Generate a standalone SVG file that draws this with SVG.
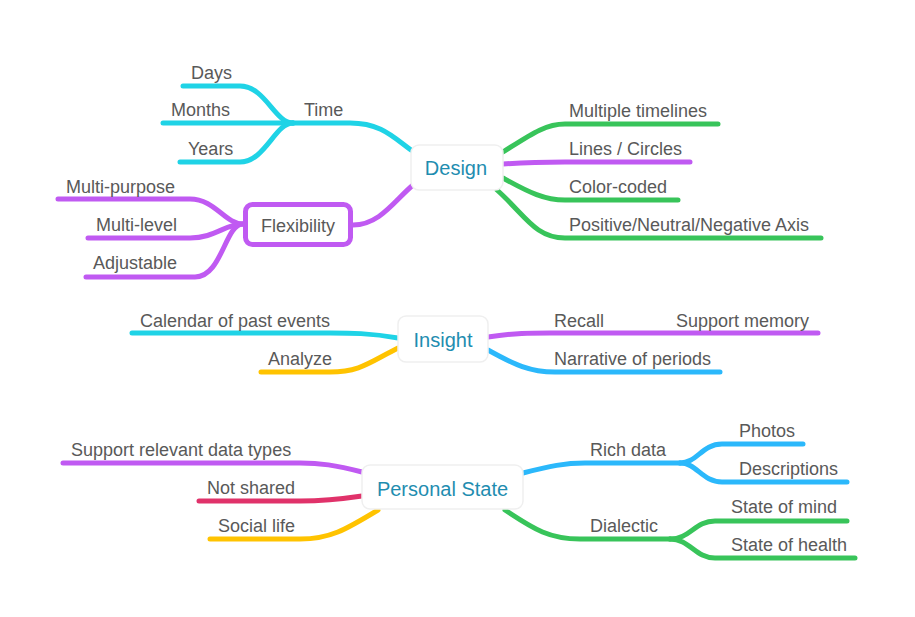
<svg xmlns="http://www.w3.org/2000/svg" width="915" height="617" viewBox="0 0 915 617">
<style>
.c{fill:none;stroke-linecap:round;stroke-linejoin:round;stroke-width:5}
.cy{stroke:#1fd3e6}.pu{stroke:#c05af2}.gr{stroke:#38c45a}.bl{stroke:#2bb8fb}.ye{stroke:#ffc300}.rd{stroke:#e0326a}
.t{font-family:"Liberation Sans",Arial,sans-serif;font-size:18px;fill:#595959}
.n{font-family:"Liberation Sans",Arial,sans-serif;font-size:20px;fill:#1f8db0;text-anchor:middle}
.box{fill:#fff;stroke:#efefef;stroke-width:1.5}
</style>
<rect width="915" height="617" fill="#fff"/>
<g id="connectors">
<path class="c cy" d="M293,123 L350,123 C380,123 392,136 411,150"/>
<path class="c cy" d="M183,86 L240,86 C265,86 275,123 293,123"/>
<path class="c cy" d="M163,123 L293,123"/>
<path class="c cy" d="M180,162 L240,162 C265,162 275,123 293,123"/>
<path class="c pu" d="M353,225 C380,225 395,200 413,185"/>
<path class="c pu" d="M58,199 L190,199 C215,199 225,224 243,224"/>
<path class="c pu" d="M88,238 L190,238 C215,238 225,224 243,224"/>
<path class="c pu" d="M86,277 L195,277 C222,277 225,224 243,224"/>
<path class="c gr" d="M503,152 C530,135 545,124 565,124 L718,124"/>
<path class="c pu" d="M503,164 C530,162 545,162 565,162 L690,162"/>
<path class="c gr" d="M503,178 C530,193 545,200 565,200 L678,200"/>
<path class="c gr" d="M497,190 C525,215 535,238 565,238 L821,238"/>
<path class="c cy" d="M398,338 C370,333 350,333 330,333 L132,333"/>
<path class="c ye" d="M398,348 C370,362 360,372 330,372 L261,372"/>
<path class="c pu" d="M488,337 C515,333 530,333 550,333 L818,333"/>
<path class="c bl" d="M488,350 C515,365 530,372 555,372 L720,372"/>
<path class="c pu" d="M362,472 C335,465 320,463 300,463 L63,463"/>
<path class="c rd" d="M362,496 C335,500 320,501 300,501 L199,501"/>
<path class="c ye" d="M378,510 C345,530 330,539 300,539 L210,539"/>
<path class="c bl" d="M523,473 C550,466 565,463 585,463 L680,463"/>
<path class="c bl" d="M680,463 C697,463 702,444 722,444 L803,444"/>
<path class="c bl" d="M680,463 C697,463 702,482 722,482 L847,482"/>
<path class="c gr" d="M505,510 C535,530 550,539 580,539 L670,539"/>
<path class="c gr" d="M670,539 C690,539 695,521 715,521 L847,521"/>
<path class="c gr" d="M670,539 C690,539 695,558 715,558 L855,558"/>
</g>
<g id="design"><rect class="box" x="411" y="145" width="92" height="45" rx="8"/><text class="n" x="456" y="175">Design</text></g>
<g id="insight"><rect class="box" x="398" y="316" width="90" height="46" rx="8"/><text class="n" x="443" y="347">Insight</text></g>
<g id="personal-state"><rect class="box" x="362" y="465" width="161" height="44" rx="8"/><text class="n" x="442.5" y="496">Personal State</text></g>
<g id="flexibility"><rect x="245.5" y="204.5" width="105" height="40" rx="7" fill="#fff" stroke="#c05af2" stroke-width="5"/><text class="t" x="298" y="232" text-anchor="middle">Flexibility</text></g>
<g id="time"><text class="t" x="304" y="116">Time</text></g>
<g id="days"><text class="t" x="191" y="79">Days</text></g>
<g id="months"><text class="t" x="171" y="116">Months</text></g>
<g id="years"><text class="t" x="188" y="155">Years</text></g>
<g id="multi-purpose"><text class="t" x="66" y="193">Multi-purpose</text></g>
<g id="multi-level"><text class="t" x="96" y="231">Multi-level</text></g>
<g id="adjustable"><text class="t" x="93" y="269">Adjustable</text></g>
<g id="multiple-timelines"><text class="t" x="569" y="117">Multiple timelines</text></g>
<g id="lines-circles"><text class="t" x="569" y="155">Lines / Circles</text></g>
<g id="color-coded"><text class="t" x="569" y="193">Color-coded</text></g>
<g id="axis"><text class="t" x="569" y="231">Positive/Neutral/Negative Axis</text></g>
<g id="calendar"><text class="t" x="140" y="327">Calendar of past events</text></g>
<g id="analyze"><text class="t" x="268" y="365">Analyze</text></g>
<g id="recall"><text class="t" x="554" y="327">Recall</text></g>
<g id="support-memory"><text class="t" x="676" y="327">Support memory</text></g>
<g id="narrative"><text class="t" x="554" y="365">Narrative of periods</text></g>
<g id="support-data"><text class="t" x="71" y="456">Support relevant data types</text></g>
<g id="not-shared"><text class="t" x="207" y="494">Not shared</text></g>
<g id="social-life"><text class="t" x="218" y="532">Social life</text></g>
<g id="rich-data"><text class="t" x="590" y="456">Rich data</text></g>
<g id="photos"><text class="t" x="739" y="437">Photos</text></g>
<g id="descriptions"><text class="t" x="739" y="475">Descriptions</text></g>
<g id="dialectic"><text class="t" x="590" y="532">Dialectic</text></g>
<g id="state-of-mind"><text class="t" x="731" y="513">State of mind</text></g>
<g id="state-of-health"><text class="t" x="731" y="551">State of health</text></g>
</svg>
